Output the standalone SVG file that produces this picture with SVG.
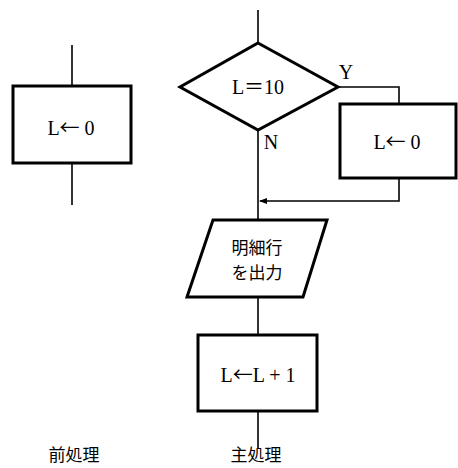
<svg xmlns="http://www.w3.org/2000/svg" width="458" height="468" viewBox="0 0 458 468">
<defs>
<style>
.node{fill:#fff;stroke:#000;stroke-width:3;stroke-linejoin:miter}
.conn{fill:none;stroke:#000;stroke-width:1.6}
.t{font-family:"Liberation Serif","Noto Sans CJK JP",serif;font-size:20px;fill:#000;text-anchor:middle}
.a{font-family:"Noto Sans CJK JP",sans-serif}
.j{font-family:"Noto Sans CJK JP",sans-serif;font-size:17px;fill:#000;text-anchor:middle}
</style>
<marker id="arr" markerWidth="8" markerHeight="6" refX="7" refY="3" orient="auto" markerUnits="userSpaceOnUse">
<path d="M0,0 L8,3 L0,6 Z" fill="#000"/>
</marker>
</defs>
<rect width="458" height="468" fill="#fff"/>
<g id="connectors">
<line class="conn" x1="72" y1="45" x2="72" y2="86"/>
<line class="conn" x1="72" y1="163" x2="72" y2="205"/>
<line class="conn" x1="258" y1="10" x2="258" y2="43"/>
<polyline class="conn" points="338,87 399,87 399,104"/>
<polyline class="conn" points="399,178 399,201 260,201" marker-end="url(#arr)"/>
<line class="conn" x1="258" y1="130" x2="258" y2="220"/>
<line class="conn" x1="258" y1="297" x2="258" y2="335"/>
<line class="conn" x1="258" y1="411" x2="258" y2="448"/>
</g>
<g id="pre-init">
<rect class="node" x="13" y="86" width="118" height="77"/>
<text class="t" x="71" y="135">L<tspan class="a">←</tspan> 0</text>
</g>
<g id="decision">
<polygon class="node" points="258,43 338,87 258,130 180,87"/>
<text class="t" x="258" y="94">L<tspan class="a">＝</tspan>10</text>
<text class="t" x="346" y="79">Y</text>
<text class="t" x="271" y="149">N</text>
</g>
<g id="reset">
<rect class="node" x="340" y="104" width="116" height="74"/>
<text class="t" x="397" y="149">L<tspan class="a">←</tspan> 0</text>
</g>
<g id="output">
<polygon class="node" points="213,220 327,220 303,297 187,297"/>
<text class="j" x="257" y="254">明細行</text>
<text class="j" x="257" y="279">を出力</text>
</g>
<g id="increment">
<rect class="node" x="198" y="335" width="119" height="76"/>
<text class="t" x="258" y="382">L<tspan class="a">←</tspan>L + 1</text>
</g>
<g id="labels">
<text class="j" x="74" y="461">前処理</text>
<text class="j" x="256" y="461">主処理</text>
</g>
</svg>
